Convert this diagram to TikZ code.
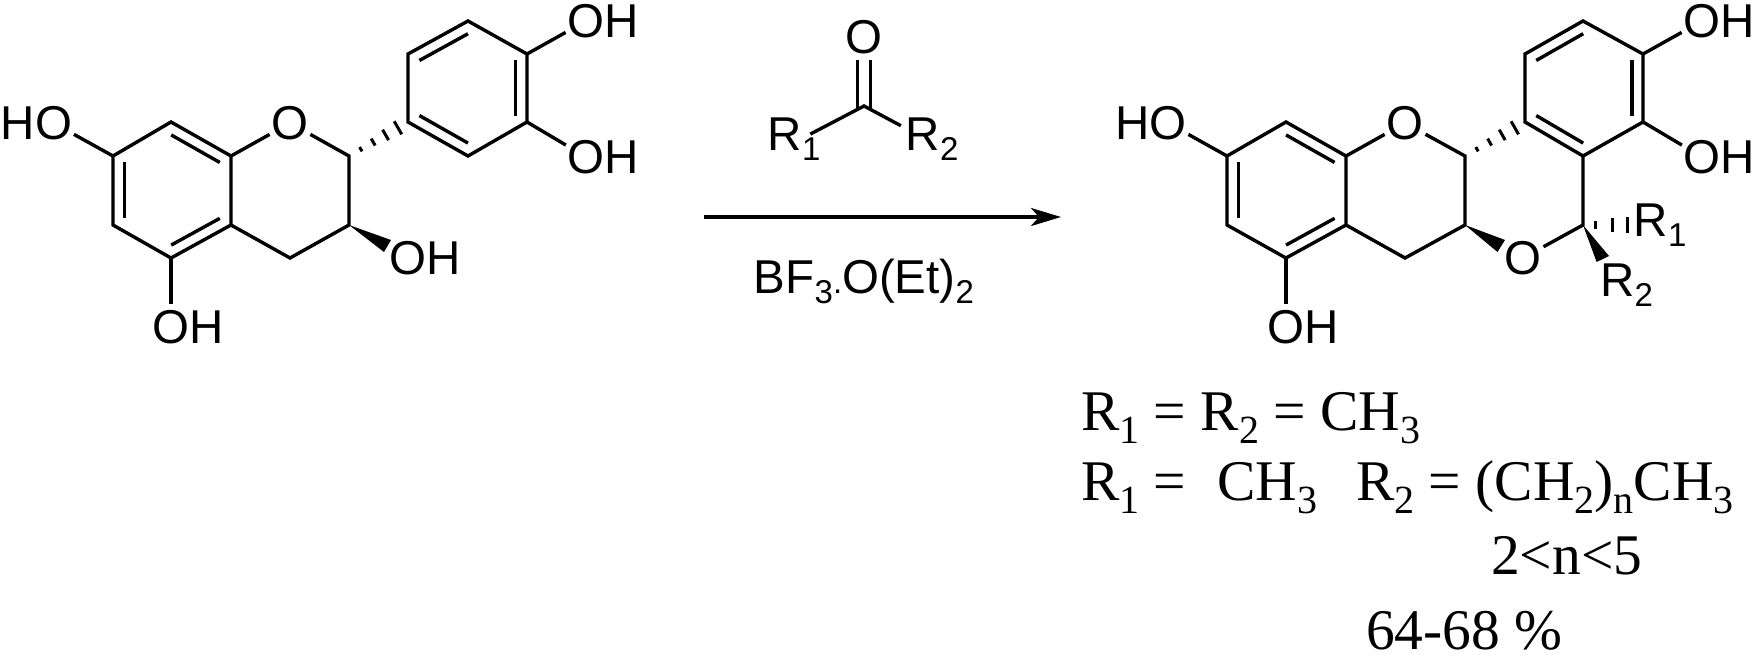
\documentclass[tikz,border=0pt]{standalone}
\usepackage{fontspec}
\setmainfont{Liberation Sans}
\newfontfamily\serifface{Liberation Serif}
\usetikzlibrary{calc,arrows.meta}
\newcommand{\chemsub}[1]{\raisebox{-10pt}{\fontsize{33}{33}\selectfont #1}}
\newcommand{\serifsub}[1]{\raisebox{-13pt}{\fontsize{40}{40}\selectfont #1}}
\newcommand{\innerbond}[3]{\draw[bond] ($(#1)!.19!(#3)$) -- ($(#2)!.19!(#3)$);}
\tikzset{
  bond/.style={line width=3.4pt},
  hashline/.style={line width=3pt},
  atom/.style={circle, inner sep=0pt, outer sep=-1.5pt, font=\fontsize{47.5}{50}\selectfont},
  note/.style={anchor=base west, inner sep=0pt, font=\serifface\fontsize{57.5}{60}\selectfont},
}
\begin{document}
\begin{tikzpicture}[x=1pt,y=-1pt]
\useasboundingbox (0,0) rectangle (1756,659);

% reactant
\coordinate (c7) at (113,156);
\coordinate (c8) at (171,122);
\coordinate (c8a) at (231,156);
\coordinate (c4a) at (231,225);
\coordinate (c5) at (171,258);
\coordinate (c6) at (113,225);
\coordinate (c2) at (349,156);
\coordinate (c3) at (349,225);
\coordinate (c4) at (290,258);
\coordinate (b1) at (408,122);
\coordinate (b2) at (408,54);
\coordinate (b3) at (468,21);
\coordinate (b4) at (527,54);
\coordinate (b5) at (527,122);
\coordinate (b6) at (468,156);
\coordinate (ringa) at (172,190);
\coordinate (ringb) at (468,88);
\coordinate (tipa) at (391,240);
\coordinate (tipb) at (384,252);
\node (o1) [atom] at (290,123) {O};
\node (oh7) [atom] at (53.5,123) {\llap{H}O};
\node (oh5) [atom] at (171,327) {O\rlap{H}};
\node (oh3) [atom] at (408,258) {O\rlap{H}};
\node (oh4) [atom] at (586,21) {O\rlap{H}};
\node (oh5b) [atom] at (586,157) {O\rlap{H}};

\draw[bond] (c7) -- (c8) -- (c8a) -- (c4a) -- (c5) -- (c6) -- cycle;
\draw[bond] (c8a) -- (o1) -- (c2) -- (c3) -- (c4) -- (c4a);
\draw[bond] (b1) -- (b2) -- (b3) -- (b4) -- (b5) -- (b6) -- cycle;
\draw[bond] (c7) -- (oh7);
\draw[bond] (c5) -- (oh5);
\draw[bond] (b4) -- (oh4);
\draw[bond] (b5) -- (oh5b);
\fill (c3) -- (tipa) -- (tipb) -- cycle;
\foreach \t/\w in {.2/2.5,.41/4,.62/6,.83/7.5}
  \draw[hashline] ($(c2)!\t!(b1)!\w pt!90:(b1)$) -- ($(c2)!\t!(b1)!\w pt!-90:(b1)$);
\innerbond{c8}{c8a}{ringa}
\innerbond{c7}{c6}{ringa}
\innerbond{c4a}{c5}{ringa}
\innerbond{b2}{b3}{ringb}
\innerbond{b4}{b5}{ringb}
\innerbond{b6}{b1}{ringb}

% reagent and arrow
\coordinate (co) at (864,106);
\node (oxo) [atom] at (864,37) {O};
\node (rone) [atom] at (785,139) {R\rlap{\chemsub{1}}};
\node (rtwo) [atom] at (923,139) {R\rlap{\chemsub{2}}};
\node (cat) [anchor=base, inner sep=0pt, font=\fontsize{47.5}{50}\selectfont] at (864,293)
  {BF\chemsub{3}{\fontsize{33}{33}\selectfont .}O(Et)\chemsub{2}};
\coordinate (start) at (704,217);
\coordinate (end) at (1061,217);
\draw[bond] (rone.11) -- (co) -- (rtwo.149);
\draw[bond] ($(co)+(-6.5,2)$) -- ($(oxo)+(-6.5,23)$);
\draw[bond] ($(co)+(6.5,2)$) -- ($(oxo)+(6.5,23)$);
\draw[-{Stealth[length=30pt,width=18pt,inset=8pt]},bond] (start) -- (end);

% product
\coordinate (pc7) at (1227,156);
\coordinate (pc8) at (1286,122);
\coordinate (pc8a) at (1346,156);
\coordinate (pc4a) at (1346,225);
\coordinate (pc5) at (1286,258);
\coordinate (pc6) at (1227,225);
\coordinate (pc2) at (1465,156);
\coordinate (pc3) at (1465,225);
\coordinate (pc4) at (1405,258);
\coordinate (pb1) at (1525,122);
\coordinate (pb2) at (1525,54);
\coordinate (pb3) at (1583,21);
\coordinate (pb4) at (1643,54);
\coordinate (pb5) at (1643,122);
\coordinate (pb6) at (1583,156);
\coordinate (cr) at (1583,225);
\coordinate (pringa) at (1286,190);
\coordinate (pringb) at (1584,88);
\coordinate (ptipa) at (1505,240);
\coordinate (ptipb) at (1497.5,252);
\coordinate (ptipc) at (1609,256);
\coordinate (ptipd) at (1596.6,262);
\node (po1) [atom] at (1405,123) {O};
\node (po3) [atom] at (1523,258) {O};
\node (poh7) [atom] at (1168,123) {\llap{H}O};
\node (poh5) [atom] at (1286,327) {O\rlap{H}};
\node (poh4) [atom] at (1702,21) {O\rlap{H}};
\node (poh5b) [atom] at (1702,157) {O\rlap{H}};
\node (rthree) [atom] at (1651,225) {R\rlap{\chemsub{1}}};
\node (rfour) [atom] at (1617.5,285) {R\rlap{\chemsub{2}}};

\draw[bond] (pc7) -- (pc8) -- (pc8a) -- (pc4a) -- (pc5) -- (pc6) -- cycle;
\draw[bond] (pc8a) -- (po1) -- (pc2) -- (pc3) -- (pc4) -- (pc4a);
\draw[bond] (pb1) -- (pb2) -- (pb3) -- (pb4) -- (pb5) -- (pb6) -- cycle;
\draw[bond] (pc7) -- (poh7);
\draw[bond] (pc5) -- (poh5);
\draw[bond] (pb4) -- (poh4);
\draw[bond] (pb5) -- (poh5b);
\draw[bond] (pb6) -- (cr) -- (po3);
\fill (pc3) -- (ptipa) -- (ptipb) -- cycle;
\fill (cr) -- (ptipc) -- (ptipd) -- cycle;
\foreach \t/\w in {.2/2.5,.41/4,.62/6,.83/7.5}
  \draw[hashline] ($(pc2)!\t!(pb1)!\w pt!90:(pb1)$) -- ($(pc2)!\t!(pb1)!\w pt!-90:(pb1)$);
\foreach \t/\w in {.19/4,.44/7,.66/8}
  \draw[hashline] ($(cr)!\t!(rthree)!\w pt!90:(rthree)$) -- ($(cr)!\t!(rthree)!\w pt!-90:(rthree)$);
\innerbond{pc8}{pc8a}{pringa}
\innerbond{pc7}{pc6}{pringa}
\innerbond{pc4a}{pc5}{pringa}
\innerbond{pb2}{pb3}{pringb}
\innerbond{pb4}{pb5}{pringb}
\innerbond{pb6}{pb1}{pringb}

% substituents and yield
\node (line1) [note] at (1081,430) {R\serifsub{1} = R\serifsub{2} = CH\serifsub{3}};
\node (line2a) [note] at (1081,500) {R\serifsub{1} =};
\node (line2b) [note] at (1217,500) {CH\serifsub{3}};
\node (line2c) [note] at (1356,500) {R\serifsub{2} = (CH\serifsub{2})\serifsub{n}CH\serifsub{3}};
\node (line3) [note] at (1491,574) {2<n<5};
\node (yield) [note] at (1366,649) {64-68 \%};
\end{tikzpicture}
\end{document}
